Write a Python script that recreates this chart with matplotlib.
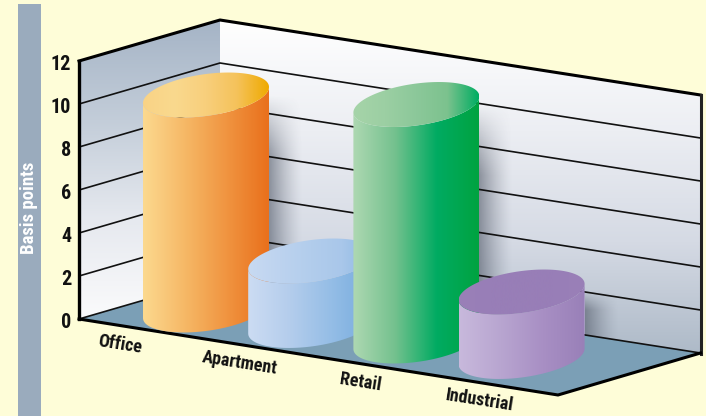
import numpy as np
import matplotlib
matplotlib.use('Agg')
import matplotlib.pyplot as plt
from matplotlib.colors import LinearSegmentedColormap
from matplotlib.patches import Polygon

categories = ['Office', 'Apartment', 'Retail', 'Industrial']
values     = [10, 3, 11, 3]
yticks     = [0, 2, 4, 6, 8, 10, 12]
ylabel     = 'Basis points'

body_colors = [['#fcd98f', '#f6b866', '#f09440', '#e9701c'],
               ['#ccdcf3', '#b4cdec', '#94bde6', '#74aadd'],
               ['#aed8b2', '#74c18e', '#00ab62', '#00a340'],
               ['#c8b9dc', '#b8a5d0', '#a88fc4', '#9980b8']]
top_colors  = [['#f9d386', '#fad98e', '#f8cf7c', '#f5c25a', '#efaa00'],
               ['#c8daf2', '#bdd3ef', '#b2cdec', '#a9c7ea', '#88b6e2'],
               ['#a6d4a9', '#9ccfa3', '#8cc89a', '#7cc28e', '#00ad62'],
               ['#9a80b8', '#987eb7', '#987eb7', '#987eb7', '#9a80b8']]

BG      = '#fefdd8'
STRIP   = '#9aabbd'
FLOOR   = '#7b9fb6'
FONT    = 'Roboto Condensed'
UNIT    = 21.5   # pixels per basis point
RX      = 63     # cylinder half width
TILT    = 8      # vertical offset of the ellipse ends
RY      = 21     # ellipse height term


def gradient(ax, poly, colors, extent, vertical=False, z=1):
    # paint a linear gradient and clip it to a polygon
    cmap = LinearSegmentedColormap.from_list('g', colors)
    ramp = np.linspace(0, 1, 256)
    ramp = ramp.reshape(-1, 1) if vertical else ramp.reshape(1, -1)
    im = ax.imshow(ramp, cmap=cmap, extent=extent, aspect='auto', origin='upper', zorder=z, vmin=0, vmax=1)
    patch = Polygon(poly, closed=True, transform=ax.transData, fc='none', ec='none')
    ax.add_patch(patch)
    im.set_clip_path(patch)


def ellipse(cx, cy, t):
    return np.column_stack([cx + RX * np.cos(t), cy - TILT * np.cos(t) + RY * np.sin(t)])


def raised(p, v):
    return (p[0], p[1] - v * UNIT)


fig = plt.figure(figsize=(7.06, 4.16), dpi=100, facecolor=BG)
ax = fig.add_axes([0, 0, 1, 1])
ax.set_facecolor(BG)
ax.axis('off')

# wall corners at value 0, the height comes from the tick scale
front = (79, 319)
back  = (220, 278)
right = (700.5, 353)
floor_front = (558, 395)

ax.add_patch(Polygon([front, back, right, floor_front], closed=True, fc=FLOOR, ec='none', zorder=1))

left_wall  = [front, back, raised(back, 12), raised(front, 12)]
right_wall = [back, right, raised(right, 12), raised(back, 12)]
gradient(ax, left_wall, ['#a5b4c6', '#c3cdd9', '#e6e9ef', '#fbfbfc'], (79, 220, 320, 20), vertical=True)
gradient(ax, right_wall, ['#ffffff', '#eceef3', '#d5dae4', '#aebac8'], (220, 701, 353, 20), vertical=True)

# gridlines across both walls
for v in yticks:
    pts = np.array([raised(front, v), raised(back, v), raised(right, v)])
    if v == max(yticks):
        ax.plot(pts[:, 0], pts[:, 1], color='black', lw=2.2, zorder=3, solid_capstyle='projecting')
    else:
        ax.plot(pts[:, 0], pts[:, 1], color='#111111', lw=1.2, zorder=3)
    ax.text(71, raised(front, v)[1] + 3.5, str(v), ha='right', va='center', fontsize=14.5,
            fontweight='bold', family=FONT, color='#111111', zorder=6)

# frame around the walls and floor
ax.plot([79, 79], [raised(front, 12)[1], 319], color='black', lw=2.4, zorder=4)
ax.plot([701, 701], [raised(right, 12)[1], 354], color='#222222', lw=2.2, zorder=4)
ax.plot([front[0], floor_front[0], right[0]], [front[1], floor_front[1], right[1]], color='black', lw=2.2, zorder=4)

# cylinders, drawn back to front
t_front = np.linspace(0, np.pi, 80)
t_all   = np.linspace(0, 2 * np.pi, 160)
for i, v in enumerate(values):
    cx = 206 + 105.2 * i
    cy = 310 + 15.5 * i
    z  = 10 + i
    ty = cy - v * UNIT

    # soft shadow on the right wall, fading sideways and towards the top
    sx = cx + RX
    fade_x = np.linspace(1, 0, 64) ** 1.4
    fade_y = np.clip(np.linspace(0, 1, 128) / 0.3, 0, 1)
    rgba = np.zeros((128, 64, 4))
    rgba[..., :3] = (0.27, 0.30, 0.36)
    rgba[..., 3] = 0.55 * np.outer(fade_y, fade_x)
    im = ax.imshow(rgba, extent=(sx, sx + 34, cy - 2, ty), aspect='auto', origin='upper', zorder=2)
    wall_patch = Polygon(right_wall, closed=True, transform=ax.transData, fc='none', ec='none')
    ax.add_patch(wall_patch)
    im.set_clip_path(wall_patch)

    base = ellipse(cx, cy, t_front)
    cap  = ellipse(cx, ty, t_front)[::-1]
    body = np.vstack([base, cap])
    ext  = (cx - RX, cx + RX, 416, 0)
    gradient(ax, body, body_colors[i], ext, z=z)
    gradient(ax, ellipse(cx, ty, t_all), top_colors[i], ext, z=z + 0.5)

    ax.text(120 + 120 * i, 344.5 + 18.8 * i, categories[i], ha='center', va='center', rotation=-9,
            rotation_mode='anchor', fontsize=13, fontweight='bold', family=FONT, color='#111111', zorder=20)

# strip with the axis title
ax.fill_between([17.5, 40.5], 4, 416, color=STRIP, lw=0, zorder=1)
ax.text(29, 208, ylabel, rotation=90, ha='center', va='center', color='white', fontsize=13.5,
        fontweight='bold', family=FONT, zorder=2)

ax.set_xlim(0, 706)
ax.set_ylim(416, 0)
fig.savefig('out.png', dpi=100, facecolor=BG)
